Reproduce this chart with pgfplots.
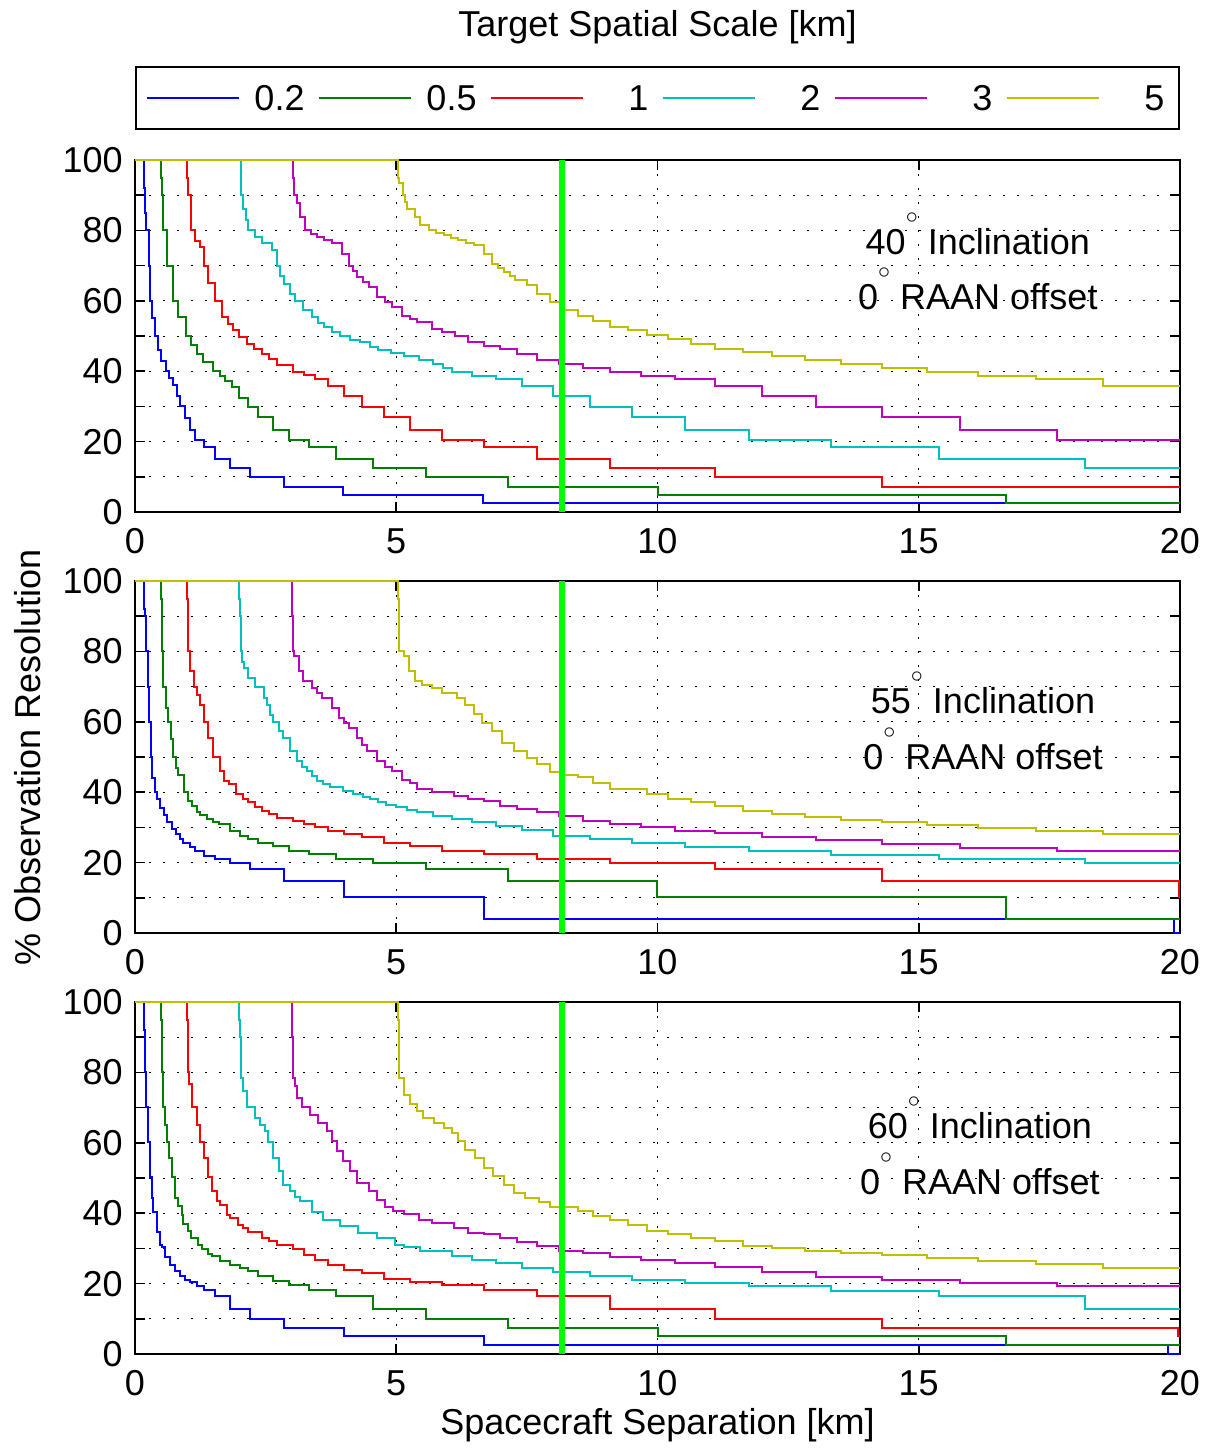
\documentclass[border=0pt]{standalone}
\usepackage{fontspec}
\setmainfont{Liberation Sans}
\usepackage{pgfplots}
\pgfplotsset{compat=1.18}
\definecolor{mblue}{rgb}{0,0,1}
\definecolor{mgreen}{rgb}{0,0.5,0}
\definecolor{mred}{rgb}{1,0,0}
\definecolor{mcyan}{rgb}{0,0.75,0.75}
\definecolor{mmag}{rgb}{0.75,0,0.75}
\definecolor{myel}{rgb}{0.75,0.75,0}
\definecolor{lgreen}{rgb}{0,1,0}
\newcommand{\dg}{\raisebox{15.5pt}[0pt][0pt]{\fontsize{12}{12}\selectfont$\circ$}}
\pgfplotsset{
  panel/.style={
    width=522.5pt, height=176pt, scale only axis,
    xmin=0, xmax=20, ymin=0, ymax=100,
    xtick={0,5,10,15,20}, ytick={0,20,40,60,80,100}, minor ytick={10,30,50,70,90},
    grid=both,
    major grid style={black, line width=0.5pt, dash pattern=on 1.2pt off 5.8pt},
    minor grid style={black, line width=0.5pt, dash pattern=on 1.2pt off 5.8pt},
    tick align=inside, tick pos=both,
    major tick length=5pt, minor tick length=5pt,
    every tick/.style={black, line width=0.8pt},
    axis line style={line width=1pt},
    clip=false, no markers,
    every axis plot/.append style={const plot, line width=1pt},
    /pgf/number format/assume math mode=true,
    xticklabel style={yshift=-2pt},
    legend image code/.code={\draw[#1] (0pt,0pt) -- (46pt,0pt);},
  },
}
\begin{document}
\fontsize{18}{21.6}\selectfont
\begin{tikzpicture}
\useasboundingbox (0pt,0pt) rectangle (604pt,-724pt);
% ---------------- Panel 1 ----------------
\begin{axis}[panel, at={(67.5pt,-80pt)}, anchor=north west,
  title={Target Spatial Scale [km]},
  title style={at={(0.5,1)}, anchor=center, yshift=60.5pt},
  legend style={at={(0.5,1)}, anchor=center, yshift=31pt, legend columns=6,
    draw=black, line width=1pt, inner sep=5pt,
    nodes={inner xsep=2pt, inner ysep=4pt, text width=25pt, align=right, text depth=0pt},
    /tikz/every odd column/.append style={column sep=5pt},
    /tikz/every even column/.append style={column sep=5pt}},
]
\addplot[mblue] coordinates {(0,100) (0.18,92) (0.2,85) (0.22,80) (0.26,70) (0.29,60) (0.33,55) (0.38,50) (0.44,46) (0.5,43) (0.59,40) (0.66,38) (0.72,36) (0.8,33) (0.86,30) (0.96,26.6) (1.05,23.3) (1.15,20.4) (1.32,18.4) (1.53,15.0) (1.81,12.4) (2.2,9.9) (2.85,7.2) (3.99,4.8) (6.66,2.6) (20,2.6)};
\addplot[mgreen] coordinates {(0,100) (0.5,95) (0.51,90) (0.54,80) (0.62,70) (0.73,60) (0.83,55.4) (0.98,50) (1.08,47.5) (1.18,45) (1.3,42.5) (1.5,40) (1.62,38.5) (1.72,37.3) (1.85,35.6) (2.0,32.5) (2.17,29.9) (2.36,26.9) (2.64,23.3) (2.94,20.4) (3.33,18.4) (3.85,15.0) (4.55,12.4) (5.56,9.9) (7.14,7.2) (10,4.8) (16.67,2.6) (20,2.6)};
\addplot[mred] coordinates {(0,100) (1.0,95) (1.01,90) (1.07,80) (1.15,77) (1.25,75.3) (1.32,70) (1.4,65) (1.53,60) (1.66,55.4) (1.78,53.5) (1.88,51.6) (2.0,49.7) (2.14,47.8) (2.27,46.4) (2.43,45) (2.56,43.6) (2.71,41.8) (3.03,39.9) (3.23,39.0) (3.45,37.8) (3.7,35.8) (4.0,33.0) (4.35,29.7) (4.76,26.9) (5.26,23.3) (5.88,20.4) (6.67,18.4) (7.69,15.0) (9.09,12.4) (11.11,9.9) (14.29,7.2) (20,7.2)};
\addplot[mcyan] coordinates {(0,100) (2.02,95) (2.03,90) (2.06,86.2) (2.12,83) (2.17,80) (2.3,78) (2.43,76.3) (2.62,74.4) (2.71,70) (2.78,67) (2.85,64.9) (2.96,62) (3.07,60) (3.22,57.3) (3.38,55.4) (3.5,53.8) (3.61,52.5) (3.77,51.2) (3.93,50) (4.12,49) (4.31,48.2) (4.5,47) (4.66,45.9) (4.9,45.1) (5.14,44.4) (5.43,43.2) (5.71,42.0) (5.9,40.8) (6.06,39.9) (6.45,38.6) (6.9,37.8) (7.41,35.8) (8.0,33.0) (8.7,29.7) (9.52,26.9) (10.53,23.3) (11.76,20.4) (13.33,18.4) (15.38,15.0) (18.18,12.4) (20,12.4)};
\addplot[mmag] coordinates {(0,100) (3.03,95) (3.05,90) (3.10,87.7) (3.16,83.9) (3.26,80) (3.37,79) (3.48,78.2) (3.62,77.2) (3.77,76.3) (3.96,73.4) (4.09,70) (4.17,68.4) (4.25,66.8) (4.36,65.3) (4.47,63.9) (4.63,61.1) (4.78,59.6) (4.92,58.2) (5.11,55.8) (5.26,54.8) (5.40,53.9) (5.68,52.0) (5.88,51) (6.12,50.1) (6.38,48.2) (6.67,47.3) (6.98,46.3) (7.31,45.0) (7.69,43.2) (8.11,42.0) (8.57,40.8) (9.09,39.9) (9.68,38.6) (10.34,37.8) (11.11,35.8) (12.0,33.0) (13.04,29.7) (14.29,26.9) (15.79,23.3) (17.65,20.4) (20,20.4)};
\addplot[myel] coordinates {(0,100) (5.04,95) (5.06,93.4) (5.12,90) (5.16,88) (5.2,86.2) (5.36,83.9) (5.46,81.5) (5.62,80) (5.77,79.3) (5.91,78.6) (6.05,77.9) (6.19,77.2) (6.33,76.5) (6.48,75.8) (6.67,73.4) (6.83,70.6) (6.94,69.4) (7.06,68.2) (7.17,67) (7.28,65.8) (7.5,64.4) (7.69,62.0) (7.94,59.6) (8.2,57.5) (8.47,55.7) (8.77,54.4) (9.09,52.7) (9.43,51.6) (9.8,50.4) (10.2,49.2) (10.64,47.8) (11.11,46.3) (11.63,45.4) (12.2,44.4) (12.82,43.2) (13.51,42.0) (14.29,40.8) (15.15,39.9) (16.13,38.6) (17.24,37.8) (18.52,35.8) (20,35.8)};
\addplot[lgreen, line width=3pt, forget plot] coordinates {(8.17,0) (8.17,100)};
\legend{0.2,0.5,1,2,3,5}
\node at (axis cs:16.13,76.7) {40\dg{} Inclination};
\node at (axis cs:16.13,61.1) {0\dg{} RAAN offset};
\end{axis}
% ---------------- Panel 2 ----------------
\begin{axis}[panel, at={(67.5pt,-290.5pt)}, anchor=north west,
  ylabel={\% Observation Resolution},
  ylabel style={at={(axis description cs:-0.1024,0.5)}, anchor=center},
]
\addplot[mblue] coordinates {(0,100) (0.18,92) (0.19,90) (0.21,80) (0.24,70) (0.27,60) (0.30,50) (0.33,44) (0.38,40) (0.43,38) (0.48,35.5) (0.55,33.5) (0.61,31.5) (0.7,29.5) (0.78,28) (0.86,26.7) (0.92,25.7) (1.05,24.3) (1.15,23.4) (1.32,22.0) (1.53,21.0) (1.81,19.8) (2.2,18.2) (2.86,14.9) (4.0,10.1) (6.67,4.0) (19.88,0) (20,0)};
\addplot[mgreen] coordinates {(0,100) (0.5,95) (0.51,90) (0.52,80) (0.53,77) (0.54,70) (0.6,64) (0.64,60) (0.68,55) (0.73,50) (0.78,47) (0.83,45) (0.93,40) (1.02,37.6) (1.09,36) (1.18,34.3) (1.25,33.4) (1.37,32.4) (1.5,31.6) (1.6,31.0) (1.82,29.1) (2.01,27.6) (2.17,26.7) (2.36,25.7) (2.64,24.8) (2.94,23.4) (3.33,22.4) (3.85,21.0) (4.55,19.8) (5.56,18.2) (7.14,14.9) (10,10.1) (16.67,4.0) (20,4.0)};
\addplot[mred] coordinates {(0,100) (1.0,95) (1.01,90) (1.02,80) (1.05,74.4) (1.12,70) (1.18,67.5) (1.25,64.9) (1.32,60) (1.4,55.5) (1.5,50) (1.63,46) (1.71,43.3) (1.79,42.2) (1.94,39.5) (2.07,38) (2.17,37.1) (2.3,35.8) (2.43,34.7) (2.56,33.7) (2.71,32.8) (3.03,31.9) (3.23,30.9) (3.45,30.0) (3.7,29.1) (4.0,28.1) (4.35,27.2) (4.76,25.7) (5.26,24.8) (5.88,23.4) (6.67,22.4) (7.69,21.0) (9.09,19.8) (11.11,18.2) (14.29,14.9) (19.98,10.1) (20,10.1)};
\addplot[mcyan] coordinates {(0,100) (2.0,95) (2.01,90) (2.02,80) (2.05,77) (2.08,75.4) (2.17,72.5) (2.3,70) (2.46,66.8) (2.52,64.9) (2.59,62) (2.65,60) (2.75,57.5) (2.84,55.5) (2.97,51.7) (3.10,48.8) (3.2,47.3) (3.29,46) (3.38,44.5) (3.48,43.1) (3.6,42.2) (3.74,41.5) (3.99,40.4) (4.17,39.5) (4.37,38.7) (4.5,38) (4.66,37.2) (4.8,36.5) (5.0,35.7) (5.2,35) (5.4,34.3) (5.71,33.3) (6.06,32.4) (6.45,31.4) (6.9,30.5) (7.41,29.2) (8.0,27.6) (8.7,26.7) (9.52,25.7) (10.53,24.4) (11.76,23.4) (13.33,22.2) (15.38,21.0) (18.18,19.8) (20,19.8)};
\addplot[mmag] coordinates {(0,100) (3.0,95) (3.01,90) (3.02,80) (3.05,78.7) (3.13,74.4) (3.22,71.6) (3.38,69.7) (3.48,68.2) (3.58,66.8) (3.77,64) (3.9,61.1) (4.0,59.6) (4.09,58.3) (4.25,55.5) (4.35,53.5) (4.44,51.7) (4.63,48.8) (4.78,47.3) (4.92,46) (5.11,43.6) (5.26,42.6) (5.4,40.9) (5.68,40.0) (6.1,39.0) (6.38,38.1) (6.67,37.4) (6.98,36.2) (7.31,35.2) (7.69,34.3) (8.11,33.3) (8.57,31.9) (9.09,31.0) (9.68,30.0) (10.34,29.1) (11.11,28.4) (12.0,27.2) (13.04,26.3) (14.29,25.3) (15.79,24.2) (17.65,23.2) (20,23.2)};
\addplot[myel] coordinates {(0,100) (5.04,95) (5.05,85) (5.06,80) (5.14,78.7) (5.24,74.4) (5.36,71.6) (5.5,70.5) (5.68,69.7) (5.87,68.2) (6.16,66.8) (6.32,64.9) (6.48,62.1) (6.64,59.7) (6.83,57.3) (7.02,54.0) (7.25,51.7) (7.5,49.8) (7.69,47.9) (7.94,45.8) (8.2,45.0) (8.47,44.3) (8.77,42.6) (9.09,40.8) (9.8,39.5) (10.2,38.2) (10.64,37.3) (11.11,36.0) (11.63,34.8) (12.2,33.8) (12.82,32.9) (13.51,32.2) (14.29,31.6) (15.15,30.6) (16.13,29.7) (17.24,29.1) (18.52,28.2) (20,28.2)};
\addplot[lgreen, line width=3pt, forget plot] coordinates {(8.17,0) (8.17,100)};
\node at (axis cs:16.23,65.9) {55\dg{} Inclination};
\node at (axis cs:16.23,50.0) {0\dg{} RAAN offset};
\end{axis}
% ---------------- Panel 3 ----------------
\begin{axis}[panel, at={(67.5pt,-501pt)}, anchor=north west,
  xlabel={Spacecraft Separation [km]},
  xlabel style={at={(axis description cs:0.5,-0.2017)}, anchor=center},
]
\addplot[mblue] coordinates {(0,100) (0.18,92) (0.19,85) (0.2,80) (0.22,70.3) (0.25,60.2) (0.29,50.3) (0.32,44.3) (0.35,40.3) (0.42,34.8) (0.48,31.1) (0.51,30.3) (0.58,27.5) (0.67,25.4) (0.77,23.5) (0.86,22.1) (0.96,21.1) (1.05,20.6) (1.18,19.2) (1.32,18.3) (1.53,16.4) (1.81,12.9) (2.2,10.0) (2.86,7.4) (4.0,5.0) (6.67,2.6) (19.77,0) (20,0)};
\addplot[mgreen] coordinates {(0,100) (0.5,95) (0.51,90) (0.52,80) (0.54,70.3) (0.57,65.2) (0.62,60.2) (0.66,55.7) (0.70,50.3) (0.77,44.3) (0.83,42) (0.89,39.5) (0.92,37) (1.02,35) (1.08,33) (1.2,31) (1.28,29.7) (1.4,28.5) (1.47,27.8) (1.63,26.4) (1.82,25.4) (2.01,24.4) (2.17,23.5) (2.36,22.1) (2.64,20.7) (2.94,19.7) (3.33,18.3) (3.85,16.4) (4.55,12.9) (5.56,10.0) (7.14,7.4) (10,5.0) (16.67,2.6) (20,2.6)};
\addplot[mred] coordinates {(0,100) (1.0,95) (1.01,90) (1.02,80) (1.04,76.6) (1.09,70.3) (1.18,65.2) (1.25,60.2) (1.32,55.7) (1.4,50.3) (1.47,46.2) (1.56,43.4) (1.63,42.4) (1.76,39.6) (1.82,38.7) (1.98,36.7) (2.07,35.9) (2.17,34.8) (2.43,33.0) (2.57,32) (2.71,31.1) (3.03,29.7) (3.23,28.2) (3.45,26.8) (3.7,25.4) (4.0,24.0) (4.35,23.0) (4.76,21.4) (5.26,20.6) (5.88,19.5) (6.67,18.3) (7.69,16.4) (9.09,12.9) (11.11,10.0) (14.29,7.4) (19.96,5.0) (20,5.0)};
\addplot[mcyan] coordinates {(0,100) (2.0,95) (2.01,90) (2.02,80) (2.03,78.5) (2.06,74.7) (2.14,70.3) (2.3,67.1) (2.39,65.2) (2.49,63.3) (2.55,60.2) (2.65,55.7) (2.75,51.9) (2.84,48.1) (2.97,46.2) (3.06,44.5) (3.16,43.4) (3.38,40.3) (3.6,38.2) (3.92,36.4) (4.27,34.5) (4.63,33.0) (4.98,31.1) (5.14,30.3) (5.45,29.2) (6.06,27.8) (6.45,26.8) (6.9,25.9) (7.41,24.5) (8.0,23.3) (8.7,22.1) (9.52,21.0) (10.53,20.1) (11.76,19.2) (13.33,18.0) (15.38,16.4) (18.18,12.9) (20,12.9)};
\addplot[mmag] coordinates {(0,100) (3.0,95) (3.01,90) (3.02,80) (3.03,78.5) (3.07,76) (3.10,72.8) (3.19,70.3) (3.35,68) (3.51,65.7) (3.67,63.3) (3.77,60.4) (3.86,57.6) (3.99,54.7) (4.12,51.9) (4.25,48.6) (4.47,46.2) (4.63,43.8) (4.79,41.7) (4.94,40.6) (5.14,39.7) (5.43,38.2) (5.68,37.3) (6.1,35.9) (6.38,34.5) (6.67,34.0) (6.98,33.0) (7.31,31.7) (7.69,30.6) (8.11,29.4) (8.57,28.7) (9.09,27.7) (9.68,26.6) (10.34,25.8) (11.11,24.6) (12.0,23.4) (13.04,21.8) (14.29,21.1) (15.79,20.1) (17.65,19.2) (20,19.2)};
\addplot[myel] coordinates {(0,100) (5.04,95) (5.05,85) (5.06,78.5) (5.15,73.7) (5.27,70.9) (5.40,69.0) (5.52,67.1) (5.72,65.7) (5.91,64.2) (6.07,62.8) (6.19,60.4) (6.32,58.1) (6.51,55.7) (6.67,52.8) (6.86,50.5) (7.06,48.1) (7.25,45.7) (7.47,44.3) (7.73,43.2) (7.95,41.7) (8.47,40.5) (8.77,39.1) (9.09,38.1) (9.43,36.7) (9.8,35.0) (10.2,34.1) (10.64,33.1) (11.11,32.2) (11.63,30.8) (12.2,30.1) (12.82,29.3) (13.51,28.7) (14.29,28.0) (15.15,27.2) (16.13,26.5) (17.24,25.5) (18.52,24.4) (20,24.4)};
\addplot[lgreen, line width=3pt, forget plot] coordinates {(8.17,0) (8.17,100)};
\node at (axis cs:16.17,64.8) {60\dg{} Inclination};
\node at (axis cs:16.17,48.9) {0\dg{} RAAN offset};
\end{axis}
\end{tikzpicture}
\end{document}
